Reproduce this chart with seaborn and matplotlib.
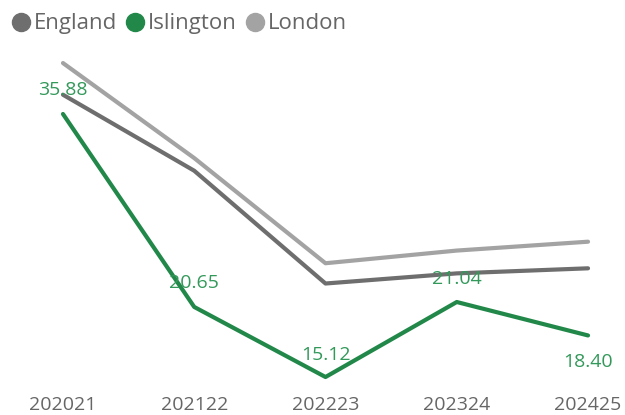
import matplotlib
matplotlib.use("Agg")
import matplotlib.pyplot as plt
from matplotlib.lines import Line2D
import seaborn as sns
import pandas as pd

years = ["202021", "202122", "202223", "202324", "202425"]
england = [37.4, 31.4, 22.5, 23.3, 23.7]
islington = [35.88, 20.65, 15.12, 21.04, 18.40]
london = [39.9, 32.4, 24.1, 25.1, 25.8]

areas = ["England", "Islington", "London"]
colors = {"England": "#6e6e6e", "Islington": "#22884a", "London": "#a3a3a3"}

df = pd.DataFrame({
    "year": years * 3,
    "value": england + islington + london,
    "area": ["England"] * 5 + ["Islington"] * 5 + ["London"] * 5,
})

sns.set_theme(style="white")
plt.rcParams["font.family"] = ["Open Sans", "DejaVu Sans"]

fig = plt.figure(figsize=(6.25, 4.15), dpi=100)
ax = fig.add_axes([40 / 625, 30 / 415, 571 / 625, 335 / 415])

sns.lineplot(data=df, x="year", y="value", hue="area", hue_order=areas,
             palette=colors, linewidth=3.0, ax=ax, legend=False, sort=False)

ax.set_xlim(-0.175, 4.175)
ax.set_ylim(14.49, 40.93)
ax.set_xlabel("")
ax.set_ylabel("")
ax.set_yticks([])
ax.tick_params(axis="x", length=0, pad=8, labelsize=14, labelcolor="#666666")
for s in ax.spines.values():
    s.set_visible(False)

# value labels on the Islington line (last one sits below the point)
offsets = [-24, -24, -22, -23, 27]
for i, (v, off) in enumerate(zip(islington, offsets)):
    ax.annotate(f"{v:.2f}", (i, v), xytext=(0, -off * 0.72), textcoords="offset points",
                ha="center", va="center", fontsize=14, color="#33995a")

handles = [Line2D([], [], linestyle="none", marker="o", markersize=13,
                  markerfacecolor=colors[a], markeredgecolor=colors[a]) for a in areas]
leg = fig.legend(handles, areas, loc="upper left", bbox_to_anchor=(-0.02, 1.016), ncol=3,
                 frameon=False, handletextpad=-0.03, columnspacing=0.22, handlelength=1.2,
                 fontsize=16)
for t in leg.get_texts():
    t.set_color("#666666")

fig.savefig("out.png", dpi=100)
